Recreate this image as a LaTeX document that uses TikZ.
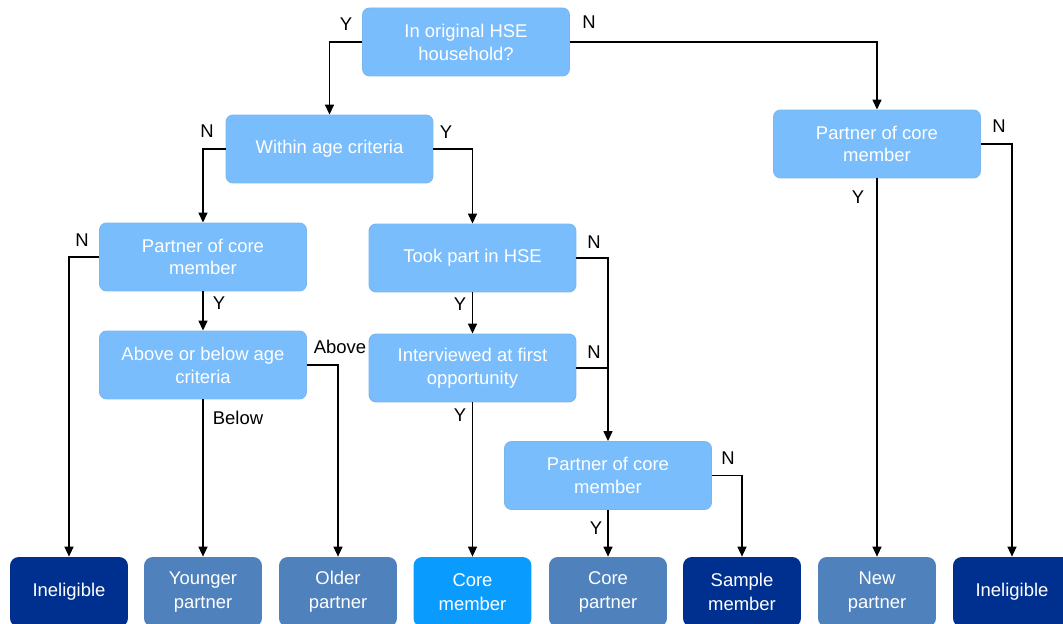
\documentclass[tikz,border=0pt]{standalone}
\usepackage{fontspec}
\setmainfont{Liberation Sans}
\usepackage{tikz}
\usepackage{xcolor}
\usetikzlibrary{arrows.meta}
\definecolor{LightBlue}{HTML}{79BDFD}
\definecolor{Navy}{HTML}{00308F}
\definecolor{MidBlue}{HTML}{4F81BD}
\definecolor{Bright}{HTML}{0A9BFF}

\begin{document}
\begin{tikzpicture}[x=0.02cm,y=-0.02cm,
  qbox/.style={rounded corners=4pt,fill=LightBlue,draw=LightBlue!88!gray,line width=0.5pt,text=white,align=center,
    minimum width=4.14cm,minimum height=1.36cm,inner sep=2pt,font=\fontsize{10.5}{13}\selectfont},
  endbox/.style={rounded corners=5pt,text=white,align=center,minimum width=2.36cm,minimum height=1.40cm,
    inner sep=2pt,font=\fontsize{10.5}{13.5}\selectfont},
  lbl/.style={font=\fontsize{10.5}{13}\selectfont},
  arr/.style={line width=0.8pt,-{Triangle[length=2mm,width=1.8mm]}}]
  \useasboundingbox (0,0) rectangle (1063,624);
  % questions
  \node[qbox] (orig) at (466,42) {In original HSE\\household?};
  \node[qbox] (agecrit) at (329.5,149) {Within age criteria};
  \node[qbox] (partnerR) at (877,144) {Partner of core\\member};
  \node[qbox] (partnerL) at (203,257) {Partner of core\\member};
  \node[qbox] (tookpart) at (472.5,258) {Took part in HSE};
  \node[qbox] (abovebelow) at (203,365) {Above or below age\\criteria};
  \node[qbox] (interview) at (472.5,368) {Interviewed at first\\opportunity};
  \node[qbox] (partnerM) at (608,475.5) {Partner of core\\member};
  % outcomes
  \node[endbox,fill=Navy] (inelL) at (69,592) {Ineligible};
  \node[endbox,fill=MidBlue] (younger) at (203,592) {Younger\\partner};
  \node[endbox,fill=MidBlue] (older) at (338,592) {Older\\partner};
  \node[endbox,fill=Bright] (coremem) at (472.5,592) {Core\\member};
  \node[endbox,fill=MidBlue] (corepart) at (608,592) {Core\\partner};
  \node[endbox,fill=Navy] (sample) at (742,592) {Sample\\member};
  \node[endbox,fill=MidBlue] (newpart) at (877,592) {New\\partner};
  \node[endbox,fill=Navy] (inelR) at (1012,592) {Ineligible};
  % connectors
  \draw[arr] (orig.west) -| (agecrit.north);
  \draw[arr] (orig.east) -| (partnerR.north);
  \draw[arr] (agecrit.west) -| (partnerL.north);
  \draw[arr] (agecrit.east) -| (tookpart.north);
  \draw[arr] (partnerR.east) -| (inelR.north);
  \draw[arr] (partnerR.south) -- (newpart.north);
  \draw[arr] (partnerL.west) -| (inelL.north);
  \draw[arr] (partnerL.south) -- (abovebelow.north);
  \draw[arr] (abovebelow.south) -- (younger.north);
  \draw[arr] (abovebelow.east) -| (older.north);
  \draw[arr] (tookpart.south) -- (interview.north);
  \draw[arr] (tookpart.east) -| (partnerM.north);
  \draw[line width=0.8pt] (interview.east) -- (interview.east -| partnerM.north);
  \draw[arr] (interview.south) -- (coremem.north);
  \draw[arr] (partnerM.south) -- (corepart.north);
  \draw[arr] (partnerM.east) -| (sample.north);
  % labels
  \node[lbl] (lOrigY) at (346,24) {Y};
  \node[lbl] (lOrigN) at (589,22) {N};
  \node[lbl] (lAgeN) at (207,131) {N};
  \node[lbl] (lAgeY) at (446,132) {Y};
  \node[lbl] (lPRN) at (999,126) {N};
  \node[lbl] (lPRY) at (858,197) {Y};
  \node[lbl] (lPLN) at (82,240) {N};
  \node[lbl] (lPLY) at (219,303) {Y};
  \node[lbl] (lBelow) at (238,418) {Below};
  \node[lbl] (lAbove) at (340,347) {Above};
  \node[lbl] (lTookY) at (460,304) {Y};
  \node[lbl] (lTookN) at (594,242) {N};
  \node[lbl] (lIntN) at (594,352) {N};
  \node[lbl] (lIntY) at (460,415) {Y};
  \node[lbl] (lPMY) at (596,528) {Y};
  \node[lbl] (lPMN) at (728,458) {N};
\end{tikzpicture}
\end{document}
